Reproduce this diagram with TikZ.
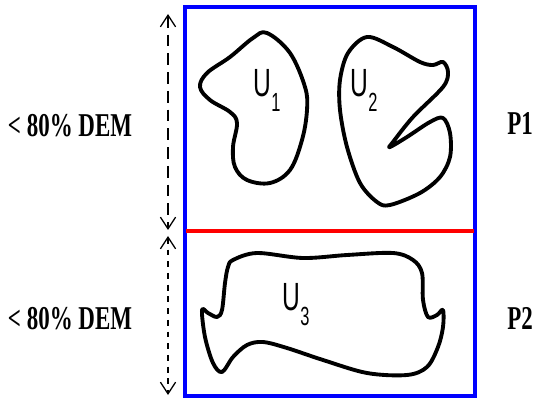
\documentclass[tikz,border=0pt]{standalone}
\usepackage{graphicx}
\usepackage{fontspec}
\setmainfont{Liberation Serif}
\newfontfamily\sidefont{Liberation Serif}
\newfontfamily\blobfont{Liberation Sans}
\usetikzlibrary{arrows.meta}
\newcommand{\tallbox}[2]{\scalebox{1}[#1]{#2}}
\newcommand{\ulabel}[1]{\tallbox{1.6}{\blobfont\fontsize{21}{21}\selectfont
  U\raisebox{-8pt}{\fontsize{14}{14}\selectfont #1}}}
\tikzset{
  sidelabel/.style = {inner sep=0pt, font=\sidefont\bfseries\fontsize{19.6}{24}\selectfont},
  region/.style = {line width=3.3pt, line join=round},
  span/.style = {line width=1.1pt, {Straight Barb[length=10pt,width=13pt]}-{Straight Barb[length=10pt,width=13pt]}},
  frame/.style = {draw=blue, line width=2.6pt},
  cut/.style = {draw=red, line width=3.2pt}
}
\begin{document}
\begin{tikzpicture}[x=0.03cm, y=-0.03cm]
\useasboundingbox (0,0) rectangle (533,400);
% partition frame and split line
\draw[frame] (185,7) rectangle (475,396);
\draw[cut] (186,231) -- (474,231);

% height markers
\coordinate (top) at (168,14);
\coordinate (mid1) at (168,230);
\coordinate (mid2) at (168,236);
\coordinate (bot) at (168,395);
\draw[span, dash pattern=on 10pt off 6pt] (top) -- (mid1);
\draw[span, dash pattern=on 5pt off 5pt] (mid2) -- (bot);

\node[sidelabel] (dem1) at (70,126) {\tallbox{1.45}{< 80\% DEM}};
\node[sidelabel] (dem2) at (70,319) {\tallbox{1.45}{< 80\% DEM}};
\node[sidelabel] (p1) at (520,124) {\tallbox{1.45}{P1}};
\node[sidelabel] (p2) at (520,318) {\tallbox{1.45}{P2}};

% region U1
\draw[region] plot[smooth cycle, tension=0.6] coordinates {
  (267,33) (290,53) (305,87) (307,110) (302,140) (290,170) (270,183)
  (247,180) (235,167) (233,147) (237,123) (230,112) (210,100) (200,87)
  (207,73) (230,57) (253,38)};
% region U2
\draw[region] plot[smooth cycle, tension=0.55] coordinates {
  (367,37) (393,47) (420,62) (433,65) (443,62) (448,72) (443,87)
  (413,117) (393,142) (390,147) (407,137) (430,122) (443,118) (450,133)
  (450,157) (440,177) (420,193) (390,205) (377,202) (360,183) (347,147)
  (340,110) (340,80) (348,53)};
% region U3
\draw[region] plot[smooth cycle, tension=0.55] coordinates {
  (233,260) (257,253) (303,258) (347,255) (393,253) (413,260) (422,273)
  (423,300) (428,317) (437,315) (443,310) (443,327) (438,347) (427,367)
  (407,375) (367,373) (323,360) (287,348) (263,342) (247,345) (233,357)
  (222,372) (213,363) (205,337) (202,310) (208,313) (217,317) (222,310)
  (225,283) (228,267)};

\node (u1) at (267,90) {\ulabel{1}};
\node (u2) at (364,90) {\ulabel{2}};
\node (u3) at (296,305) {\ulabel{3}};
\end{tikzpicture}
\end{document}
